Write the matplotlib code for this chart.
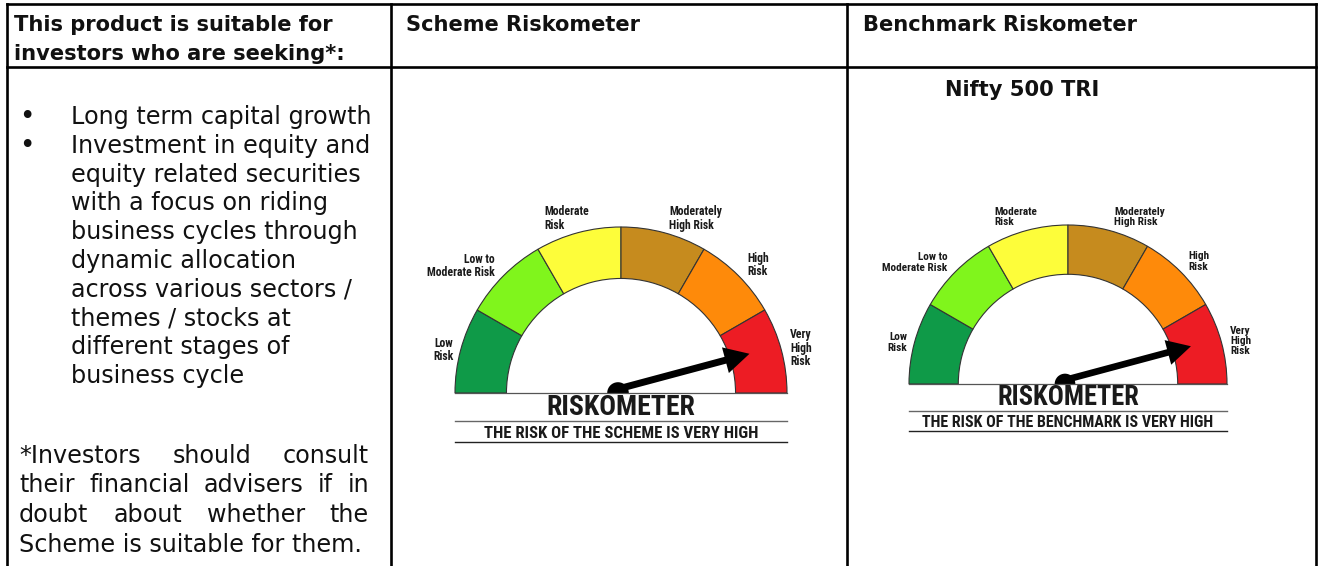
import numpy as np
import matplotlib
matplotlib.use("Agg")
import matplotlib.pyplot as plt
from matplotlib import font_manager
from matplotlib.patches import Wedge, Circle, FancyArrow

W, H = 1325, 566

# ---- content -------------------------------------------------------------
header_left = ["This product is suitable for", "investors who are seeking*:"]
header_mid = "Scheme Riskometer"
header_right = "Benchmark Riskometer"
benchmark_name = "Nifty 500 TRI"

bullet_items = [
    ["Long term capital growth"],
    ["Investment in equity and", "equity related securities",
     "with a focus on riding", "business cycles through",
     "dynamic allocation", "across various sectors /",
     "themes / stocks at", "different stages of", "business cycle"],
]
footnote = ["*Investors should consult", "their financial advisers if in",
            "doubt about whether the", "Scheme is suitable for them."]

risk_levels = ["Low\nRisk", "Low to\nModerate Risk", "Moderate\nRisk",
               "Moderately\nHigh Risk", "High\nRisk", "Very\nHigh\nRisk"]
risk_colors = ["#0f9a48", "#80f51c", "#fdfd3a", "#c68b1e", "#fe8a0a", "#ed1c24"]

# needle position on a 0..6 scale (6 = right end of "Very High")
scheme_level = 5.5
benchmark_level = 5.5
captions = ["THE RISK OF THE SCHEME IS VERY HIGH",
            "THE RISK OF THE BENCHMARK IS VERY HIGH"]


def pick_font(cands):
    names = {f.name for f in font_manager.fontManager.ttflist}
    for c in cands:
        if c in names:
            return c
    return "DejaVu Sans"


body_font = "DejaVu Sans"
narrow_font = pick_font(["Liberation Sans Narrow", "Arial Narrow",
                         "Roboto Condensed", "Liberation Sans"])

fig = plt.figure(figsize=(W / 100, H / 100), dpi=100)
ax = fig.add_axes([0, 0, 1, 1])
ax.set_xlim(0, W)
ax.set_ylim(H, 0)
ax.axis("off")
fig.canvas.draw()
rend = fig.canvas.get_renderer()


def width_px(s, size, **kw):
    t = ax.text(0, 0, s, fontsize=size, **kw)
    w = t.get_window_extent(rend).width
    t.remove()
    return w


def fit_size(s, target, **kw):
    return 10 * target / width_px(s, 10, **kw)


def justify(line, x0, x1, y, size, **kw):
    words = line.split()
    ws = [width_px(w, size, **kw) for w in words]
    gap = (x1 - x0 - sum(ws)) / (len(words) - 1)
    x = x0
    for w, wd in zip(words, ws):
        ax.text(x, y, w, fontsize=size, ha="left", va="baseline", **kw)
        x += wd + gap


# ---- table grid ----------------------------------------------------------
left, right, top, row = 7, 1316, 4, 67
col1, col2 = 391, 847
grid = dict(color="black", lw=1.9, solid_capstyle="projecting")
ax.plot([left, right], [top, top], **grid)
ax.plot([left, right], [row, row], **grid)
for x in (left, col1, col2, right):
    ax.plot([x, x], [top, H], **grid)

body = dict(family=body_font, color="#111111")
bold = dict(family=body_font, color="#111111", weight="bold")
bsize = fit_size(header_left[0], 320, **bold)
size = fit_size(footnote[-1], 342, **body)

# headers
for i, s in enumerate(header_left):
    ax.text(14, 31 + i * 29, s, fontsize=bsize, va="baseline", **bold)
ax.text(406, 31, header_mid, fontsize=bsize, va="baseline", **bold)
ax.text(863, 31, header_right, fontsize=bsize, va="baseline", **bold)
ax.text(1022, 96, benchmark_name, fontsize=bsize, ha="center", va="baseline", **bold)

# bullets
y = 124
for item in bullet_items:
    ax.text(27, y, "\u2022", fontsize=size * 1.1, ha="center", va="baseline", **body)
    for line in item:
        ax.text(71, y, line, fontsize=size, va="baseline", **body)
        y += 28.8

# footnote (justified)
for i, line in enumerate(footnote):
    yy = 463 + i * 29.5
    if i < len(footnote) - 1:
        justify(line, 19, 369, yy, size, **body)
    else:
        ax.text(19, yy, line, fontsize=size, va="baseline", **body)

# ---- riskometers ---------------------------------------------------------
label_pos = [(-1.01, 0.26, "right"), (-0.76, 0.765, "right"),
             (-0.464, 1.05, "left"), (0.29, 1.05, "left"),
             (0.76, 0.77, "left"), (1.02, 0.27, "left")]
narrow = dict(family=narrow_font, weight="bold", color="#1a1a1a")
lab_k = fit_size("Moderate Risk", 68, **narrow) / 166
rk_k = fit_size("RISKOMETER", 148, **narrow) / 166
cap_k = fit_size(captions[0], 273, **narrow) / 166


def gauge(cx, cy, R, level, caption):
    r = R * 0.69
    n = len(risk_levels)
    step = 180 / n
    for i, col in enumerate(risk_colors):
        a1 = 180 - i * step
        a2 = a1 - step
        ax.add_patch(Wedge((cx, cy), R, -a1, -a2, width=R - r,
                           facecolor=col, edgecolor="#333333", lw=0.8))
    for lab, (dx, dy, ha) in zip(risk_levels, label_pos):
        ax.text(cx + dx * R, cy - dy * R, lab, fontsize=lab_k * R, ha=ha,
                va="center", multialignment=ha, linespacing=1.05, **narrow)
    ax.plot([cx - R, cx + R], [cy, cy], color="#555555", lw=0.9)
    ang = np.radians(180 - level * step)
    L = 0.82 * R
    x0, y0 = cx - 3, cy - 4
    ax.add_patch(FancyArrow(x0, y0, L * np.cos(ang), -L * np.sin(ang),
                            width=0.042 * R, head_width=0.16 * R,
                            head_length=0.15 * R, length_includes_head=True,
                            color="black", lw=0))
    ax.add_patch(Wedge((x0, y0 + 4), 0.065 * R, 180, 360, color="black", lw=0))
    ax.text(cx, cy + 0.133 * R, "RISKOMETER", fontsize=rk_k * R, ha="center",
            va="baseline", **narrow)
    ax.plot([cx - R, cx + R], [cy + 0.17 * R] * 2, color="#666666", lw=1)
    ax.text(cx, cy + 0.272 * R, caption, fontsize=cap_k * R, ha="center",
            va="baseline", **narrow)
    ax.plot([cx - R, cx + R], [cy + 0.295 * R] * 2, color="#222222", lw=1)


gauge(621, 393, 166, scheme_level, captions[0])
gauge(1068, 384, 159, benchmark_level, captions[1])

fig.savefig("out.png", dpi=100)
